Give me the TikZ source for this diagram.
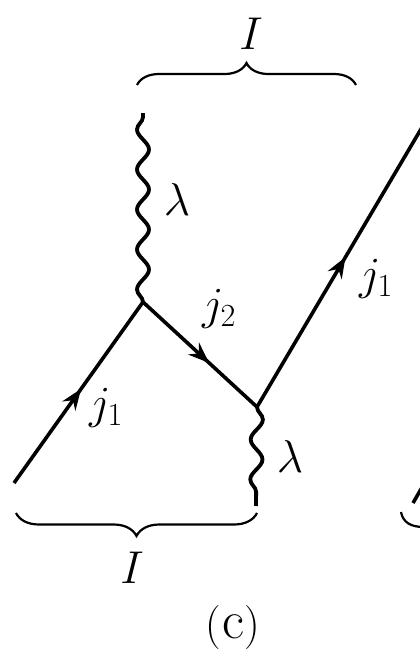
\documentclass[tikz,border=0pt]{standalone}
\usepackage{fix-cm}
\usetikzlibrary{arrows.meta,decorations.pathmorphing,decorations.pathreplacing,decorations.markings}
\tikzset{
  fermion/.style={line width=3.6pt},
  photon/.style={line width=3.8pt,decorate,decoration={snake,segment length=40pt,amplitude=6pt}},
  bracestyle/.style={line width=2.2pt,decorate,decoration={brace,amplitude=#1}},
  midarrow/.style={postaction={decorate,decoration={markings,mark=at position #1 with {\arrow{Stealth[length=21pt,width=16pt,inset=7pt]}}}}},
  lbl/.style={inner sep=0pt,font=\fontsize{46}{50}\selectfont},
}
\begin{document}
\begin{tikzpicture}[x=1pt,y=-1pt]
\useasboundingbox (0,0) rectangle (420,657);
\clip (0,0) rectangle (420,657);
% vertices
\coordinate (L) at (14,483);
\coordinate (A) at (143,302);
\coordinate (B) at (257,407);
\coordinate (R) at (424,124);
\coordinate (W1) at (143,113);
\coordinate (W2) at (256,506);
% fermion lines
\draw[fermion,midarrow=0.52] (L) -- (A);
\draw[fermion,midarrow=0.58] (A) -- (B);
\draw[fermion,midarrow=0.53] (B) -- (R);
% photon lines
\draw[photon] (A) -- (W1);
\draw[photon] (B) -- (W2);
% labels
\node[lbl] (lj1) at (106,408) {$j_1$};
\node[lbl] (lj2) at (219,309) {$j_2$};
\node[lbl] (lj1b) at (376,279) {$j_1$};
\node[lbl] (llam1) at (177,200) {$\lambda$};
\node[lbl] (llam2) at (290,457) {$\lambda$};
% braces
\coordinate (T1) at (137,85);
\coordinate (T2) at (356,85);
\draw[bracestyle=22pt] (T1) -- (T2);
\node[lbl] (Itop) at (251,34) {$I$};
\coordinate (U1) at (257,513);
\coordinate (U2) at (16,513);
\draw[bracestyle=23pt] (U1) -- (U2);
\node[lbl] (Ibot) at (132,568) {$I$};
\node[inner sep=0pt,font=\fontsize{44}{48}\selectfont] (cap) at (233,628) {(\kern1pt{\fontsize{54}{56}\selectfont c}\kern1pt)};
% fragments of the neighbouring figure
\coordinate (F1) at (413,503);
\coordinate (F2) at (424,484);
\draw[line width=3.6pt] (F1) -- (F2);
\coordinate (G1) at (401,512);
\coordinate (G2) at (424,527);
\draw[line width=2.2pt] (G1) .. controls (403,522) and (410,527) .. (G2);
\end{tikzpicture}
\end{document}
